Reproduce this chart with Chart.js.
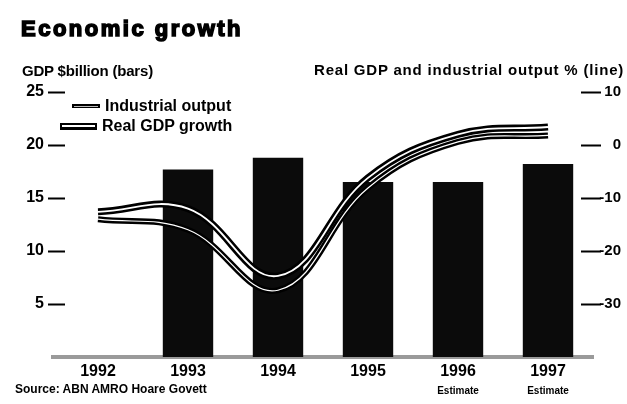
<!DOCTYPE html>
<html>
<head>
<meta charset="utf-8">
<script src="https://cdn.jsdelivr.net/npm/chart.js@4/dist/chart.umd.min.js"></script>
<style>
  html, body { margin: 0; padding: 0; background: #fff; }
  #wrap { position: relative; width: 627px; height: 404px; overflow: hidden; font-family: "Liberation Sans", Arial, sans-serif; color: #000; }
  #c { position: absolute; left: 0; top: 0; }
  .t { position: absolute; white-space: nowrap; font-weight: bold; }
  #title { left: 21px; top: 16px; font-size: 22px; letter-spacing: 2.5px; -webkit-text-stroke: 1.6px #000; }
  #ltitle { left: 22px; top: 62px; font-size: 15px; letter-spacing: -0.2px; }
  #rtitle { left: 314px; top: 61px; font-size: 15px; letter-spacing: 0.8px; }
  #source { left: 15px; top: 382px; font-size: 12px; }
  .leg { position: absolute; display: flex; align-items: center; font-weight: bold; font-size: 16px; white-space: nowrap; }
  .sw { display: inline-block; background: #000; position: relative; margin-right: 5px; }
  .sw i { position: absolute; left: 2px; right: 2px; top: 50%; background: #fff; }
</style>
</head>
<body>
<div id="wrap">
  <canvas id="c" width="627" height="404"></canvas>
  <div class="t" id="title">Economic growth</div>
  <div class="t" id="ltitle">GDP $billion (bars)</div>
  <div class="t" id="rtitle">Real GDP and industrial output % (line)</div>
  <div class="leg" style="left:72px; top:97px;"><span class="sw" style="width:28px;height:4px;"><i style="height:1px;margin-top:-0.5px;background:#bbb;"></i></span>Industrial output</div>
  <div class="leg" style="left:60px; top:117px;"><span class="sw" style="width:37px;height:7px;"><i style="height:2px;margin-top:-1px;"></i></span>Real GDP growth</div>
  <div class="t" id="source">Source: ABN AMRO Hoare Govett</div>
</div>
<script>
// ---- data ----
const years = ["1992", "1993", "1994", "1995", "1996", "1997"];
const estimateYears = ["1996", "1997"];
const gdpBillion = [null, 17.7, 18.8, 16.5, 16.5, 18.2];          // bars, left axis
const realGdpGrowth = [-12.6, -12.0, -24.7, -6.2, 2.0, 3.4];      // %, right axis (upper line)
const industrialOutput = [-14.0, -16.0, -27.4, -8.1, 0.6, 1.8];   // %, right axis (lower line)
const leftTicks = [5, 10, 15, 20, 25];
const rightTicks = [-30, -20, -10, 0, 10];

const tickMarks = {
  id: 'tickMarks',
  afterDraw(chart) {
    const ctx = chart.ctx, ca = chart.chartArea;
    const y = chart.scales.y, y1 = chart.scales.y1, x = chart.scales.x;
    ctx.save();
    ctx.strokeStyle = '#000';
    ctx.lineWidth = 2;
    leftTicks.forEach(v => {
      const py = Math.round(y.getPixelForValue(v)) + 0.5;
      ctx.beginPath(); ctx.moveTo(ca.left - 5, py); ctx.lineTo(ca.left + 12, py); ctx.stroke();
    });
    rightTicks.forEach(v => {
      const py = Math.round(y1.getPixelForValue(v)) + 0.5;
      ctx.beginPath(); ctx.moveTo(ca.right - 12, py); ctx.lineTo(ca.right + 8, py); ctx.stroke();
    });
    // "Estimate" notes under forecast years
    ctx.fillStyle = '#000';
    ctx.font = 'bold 10px "Liberation Sans", Arial, sans-serif';
    ctx.textAlign = 'center';
    ctx.textBaseline = 'middle';
    estimateYears.forEach(yr => {
      const px = x.getPixelForValue(years.indexOf(yr));
      ctx.fillText('Estimate', px, ca.bottom + 34);
    });
    ctx.restore();
  }
};

const lineBase = { type: 'line', yAxisID: 'y1', tension: 0.4, pointRadius: 0, fill: false };

new Chart(document.getElementById('c'), {
  data: {
    labels: years,
    datasets: [
      { type: 'bar', label: 'GDP $billion', data: gdpBillion, yAxisID: 'y', backgroundColor: '#0b0b0b',
        categoryPercentage: 1.0, barPercentage: 0.56, order: 10 },
      Object.assign({}, lineBase, { label: 'Real GDP growth', data: realGdpGrowth, borderColor: '#000', borderWidth: 7, order: 4 }),
      Object.assign({}, lineBase, { label: 'Real GDP growth (core)', data: realGdpGrowth, borderColor: '#fff', borderWidth: 1.8, order: 3 }),
      Object.assign({}, lineBase, { label: 'Industrial output', data: industrialOutput, borderColor: '#000', borderWidth: 6, order: 2 }),
      Object.assign({}, lineBase, { label: 'Industrial output (core)', data: industrialOutput, borderColor: '#fff', borderWidth: 1.2, order: 1 })
    ]
  },
  options: {
    responsive: false,
    animation: false,
    layout: { padding: { top: 92, right: 6, left: 0, bottom: 0 } },
    plugins: { legend: { display: false }, tooltip: { enabled: false } },
    scales: {
      x: {
        type: 'category',
        offset: true,
        grid: { display: false, drawTicks: false },
        border: { display: true, color: '#9a9a9a', width: 4 },
        ticks: { color: '#000', padding: 5, font: { family: '"Liberation Sans", Arial, sans-serif', size: 16, weight: 'bold' } },
        afterFit(s) { s.height = 47; }
      },
      y: {
        position: 'left', min: 0, max: 25,
        grid: { display: false, drawTicks: false },
        border: { display: false },
        ticks: { stepSize: 5, padding: 9, color: '#000',
          font: { family: '"Liberation Sans", Arial, sans-serif', size: 16, weight: 'bold' },
          callback: v => leftTicks.includes(v) ? String(v) : null },
        afterFit(s) { s.width = 53; }
      },
      y1: {
        position: 'right', min: -40, max: 10,
        grid: { display: false, drawTicks: false },
        border: { display: false },
        ticks: { stepSize: 10, padding: 0, crossAlign: 'far', color: '#000',
          font: { family: '"Liberation Sans", Arial, sans-serif', size: 15, weight: 'bold' },
          callback: v => rightTicks.includes(v) ? String(v) : null },
        afterFit(s) { s.width = 28; }
      }
    }
  },
  plugins: [tickMarks]
});
</script>
</body>
</html>
